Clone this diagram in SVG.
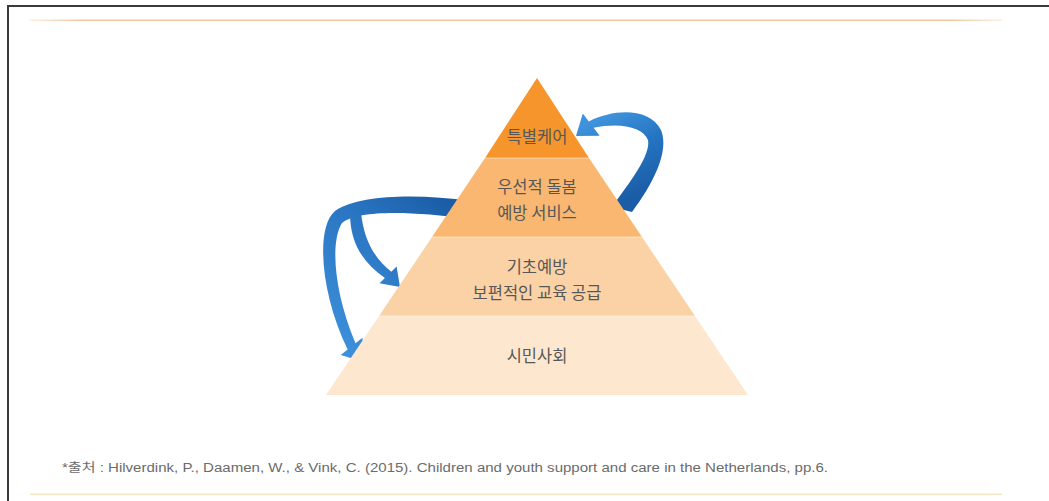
<svg xmlns="http://www.w3.org/2000/svg" width="1049" height="501" viewBox="0 0 1049 501">
  <style>
    .lbl { font-family: "Noto Sans CJK KR", "Noto Sans", sans-serif; font-size: 16.5px; fill: #575757; text-anchor: middle; }
    .note { font-family: "Liberation Sans", "Noto Sans CJK KR", sans-serif; font-size: 12.5px; fill: #6b6b6b; }
    .sep { stroke: #ffffff; stroke-width: 0.8; stroke-opacity: 0.6; }
  </style>
  <defs>
    <linearGradient id="rule" x1="0" y1="0" x2="1" y2="0">
      <stop offset="0" stop-color="#f6dcc0" stop-opacity="0.5"/>
      <stop offset="0.05" stop-color="#efcba3"/>
      <stop offset="0.95" stop-color="#efcba3"/>
      <stop offset="1" stop-color="#f6dcc0" stop-opacity="0.5"/>
    </linearGradient>
    <linearGradient id="blueRight" gradientUnits="userSpaceOnUse" x1="620" y1="205" x2="585" y2="125">
      <stop offset="0" stop-color="#1a5ca5"/>
      <stop offset="0.55" stop-color="#2574c2"/>
      <stop offset="1" stop-color="#3f92dc"/>
    </linearGradient>
    <linearGradient id="blueLeft" gradientUnits="userSpaceOnUse" x1="455" y1="205" x2="345" y2="355">
      <stop offset="0" stop-color="#1a5ca5"/>
      <stop offset="0.35" stop-color="#2a75c2"/>
      <stop offset="1" stop-color="#3d90db"/>
    </linearGradient>
  </defs>

  <!-- page frame and rules -->
  <g id="frame">
    <rect x="0" y="0" width="1049" height="501" fill="#ffffff"/>
    <path d="M 8 501 L 8 6 L 1049 6" fill="none" stroke="#3a3a3a" stroke-width="2"/>
    <rect x="30" y="19.5" width="972" height="1.6" fill="url(#rule)"/>
    <rect x="30" y="493.5" width="972" height="1.6" fill="#f3e7c4"/>
  </g>

  <!-- connectors: curved arrows around the pyramid -->
  <g id="connectors">
    <path d="M 576 136 L 582.8 113.4 L 588.8 121.4 C 615 108, 650 108, 661 130 C 670 152, 652 185, 632 212 L 612 207 C 630 182, 651 155, 648 140 C 643 127, 620 122, 593.6 127.8 L 599.6 135.8 Z" fill="url(#blueRight)"/>
    <path d="M 470 201 C 420 194, 360 194, 335 211 C 315 228, 321 295, 347.7 349.5 L 340.7 355.1 L 364 362 L 362.5 337.7 L 355.5 343.3 C 334 292, 330 242, 342 223 C 358 210, 410 211, 470 219 Z" fill="url(#blueLeft)"/>
    <path d="M 350 213 C 350 242, 362 262, 384.9 278.1 L 379.6 283.3 L 400 287 L 396.6 266.5 L 391.3 271.7 C 372 256, 364 238, 361 213 Z" fill="url(#blueLeft)"/>
  </g>

  <!-- pyramid tiers -->
  <g id="tier-special-care">
    <polygon points="537,78 589,158 485,158" fill="#f5952c"/>
    <text class="lbl" x="537" y="143">특별케어</text>
  </g>
  <g id="tier-priority-care">
    <polygon points="485,158 589,158 642,237 432,237" fill="#f9b771"/>
    <line class="sep" x1="485" y1="158" x2="589" y2="158"/>
    <text class="lbl" x="537" y="193">우선적 돌봄</text>
    <text class="lbl" x="537" y="219">예방 서비스</text>
  </g>
  <g id="tier-basic-prevention">
    <polygon points="432,237 642,237 695,316 379,316" fill="#fbd2a6"/>
    <line class="sep" x1="432" y1="237" x2="642" y2="237"/>
    <text class="lbl" x="537" y="273">기초예방</text>
    <text class="lbl" x="537" y="299">보편적인 교육 공급</text>
  </g>
  <g id="tier-civil-society">
    <polygon points="379,316 695,316 748,395 326,395" fill="#fde8cf"/>
    <line class="sep" x1="379" y1="316" x2="695" y2="316"/>
    <text class="lbl" x="537" y="362">시민사회</text>
  </g>

  <!-- source note -->
  <g id="source">
    <text class="note" x="62" y="472" textLength="766" lengthAdjust="spacingAndGlyphs">*출처 : Hilverdink, P., Daamen, W., &amp; Vink, C. (2015). Children and youth support and care in the Netherlands, pp.6.</text>
  </g>
</svg>
